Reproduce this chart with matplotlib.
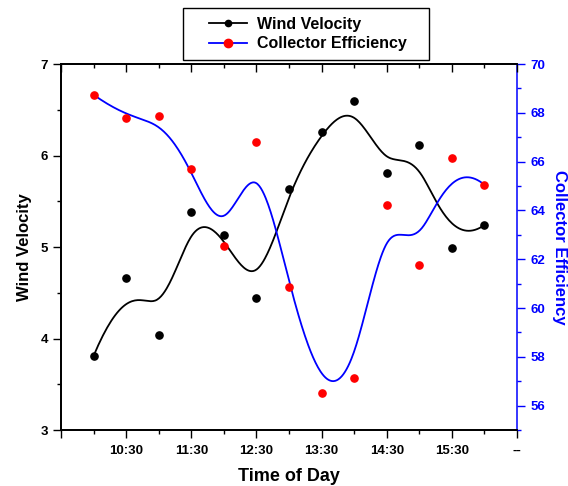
import matplotlib
matplotlib.use("Agg")
import matplotlib.pyplot as plt
from matplotlib.lines import Line2D
from matplotlib.patches import Rectangle
from matplotlib.ticker import MultipleLocator, FixedLocator
import numpy as np

plt.rcParams['font.family'] = ['Liberation Sans', 'DejaVu Sans']
plt.rcParams['font.weight'] = 'bold'

# Data
hours = [10.0, 10.5, 11.0, 11.5, 12.0, 12.5, 13.0, 13.5, 14.0, 14.5, 15.0, 15.5, 16.0]
wind_velocity = [3.81, 4.66, 4.04, 5.38, 5.13, 4.44, 5.63, 6.26, 6.60, 5.81, 6.11, 4.99, 5.24]
collector_eff = [68.74, 67.79, 67.85, 65.71, 62.54, 66.82, 60.86, 56.50, 57.15, 64.23, 61.78, 66.16, 65.05]
tick_hours = [9.5, 10.5, 11.5, 12.5, 13.5, 14.5, 15.5, 16.5]
tick_labels = ['', '10:30', '11:30', '12:30', '13:30', '14:30', '15:30', '--']


def bspline(px, py, samples=400):
    # clamped cubic B-spline using the data points as control points
    px = np.asarray(px, float)
    py = np.asarray(py, float)
    n = len(px)
    k = 3
    inner = np.arange(1, n - k)
    knots = np.concatenate([[0] * (k + 1), inner, [n - k] * (k + 1)]).astype(float)
    u = np.linspace(0, n - k, samples)
    u[-1] -= 1e-9
    # Cox-de Boor
    N = np.zeros((samples, len(knots) - 1))
    for i in range(len(knots) - 1):
        N[:, i] = (u >= knots[i]) & (u < knots[i + 1])
    for d in range(1, k + 1):
        Nn = np.zeros((samples, len(knots) - 1 - d))
        for i in range(len(knots) - 1 - d):
            a = knots[i + d] - knots[i]
            b = knots[i + d + 1] - knots[i + 1]
            t1 = (u - knots[i]) / a * N[:, i] if a > 0 else 0
            t2 = (knots[i + d + 1] - u) / b * N[:, i + 1] if b > 0 else 0
            Nn[:, i] = t1 + t2
        N = Nn
    return N @ px, N @ py


fig = plt.figure(figsize=(5.68, 4.86), dpi=100)
ax = fig.add_axes([0.1074, 0.1152, 0.8028, 0.7531])
ax2 = ax.twinx()
top = ax.twiny()

cx, cy = bspline(hours, wind_velocity)
ax.plot(cx, cy, color='black', lw=1.3, zorder=2)
ax.plot(hours, wind_velocity, 'o', color='black', ms=5.2, zorder=3)

bx, by = bspline(hours, collector_eff)
ax2.plot(bx, by, color='blue', lw=1.3, zorder=2)
ax2.plot(hours, collector_eff, 'o', color='red', ms=5.2, zorder=3)

ax.set_xlim(9.5, 16.5)
ax.set_ylim(3, 7)
ax2.set_ylim(55, 70)
top.set_xlim(9.5, 16.5)

ax.xaxis.set_major_locator(FixedLocator(tick_hours))
ax.set_xticklabels(tick_labels)
ax.xaxis.set_minor_locator(MultipleLocator(0.5))
ax.yaxis.set_major_locator(MultipleLocator(1))
ax.yaxis.set_minor_locator(MultipleLocator(0.5))
ax2.yaxis.set_major_locator(MultipleLocator(2))
ax2.yaxis.set_minor_locator(MultipleLocator(1))
top.xaxis.set_major_locator(FixedLocator(tick_hours))
top.xaxis.set_minor_locator(MultipleLocator(0.5))

ax.tick_params(axis='x', which='major', direction='out', length=6, width=1,
               top=False, labelsize=9.5, pad=5)
ax.tick_params(axis='x', which='minor', direction='out', length=3, width=1, top=False)
ax.tick_params(axis='y', which='major', direction='out', length=6, width=1, labelsize=9.5)
ax.tick_params(axis='y', which='minor', direction='out', length=3, width=1)
ax2.tick_params(axis='y', which='major', direction='out', length=6, width=1,
                colors='blue', labelsize=9.5)
ax2.tick_params(axis='y', which='minor', direction='out', length=3, width=1, colors='blue')
# top ticks point inward
top.tick_params(axis='x', which='major', direction='in', length=6, width=1, labeltop=False)
top.tick_params(axis='x', which='minor', direction='in', length=3, width=1)

for a in (ax, ax2, top):
    for s in a.spines.values():
        s.set_linewidth(1.1)
ax2.spines['right'].set_color('blue')
top.spines['right'].set_visible(False)
ax.spines['right'].set_visible(False)

ax.set_xlabel('Time of Day', fontsize=13, fontweight='bold', labelpad=8)
ax.set_ylabel('Wind Velocity', fontsize=12, fontweight='bold')
ax2.set_ylabel('Collector Efficiency', fontsize=12, fontweight='bold', color='blue',
               rotation=270, labelpad=16)
ax.yaxis.set_label_coords(-0.064, 0.5)

handles = [
    Line2D([], [], color='black', lw=1.3, marker='o', ms=4.5, mfc='black', mec='black'),
    Line2D([], [], color='blue', lw=1.3, marker='o', ms=6, mfc='red', mec='red'),
]
leg = fig.legend(handles, ['Wind Velocity', 'Collector Efficiency'],
                 loc='center', bbox_to_anchor=(0.5414, 0.930), fontsize=11.5,
                 frameon=False, handlelength=2.4, labelspacing=0.3,
                 borderpad=0, borderaxespad=0, handletextpad=0.6)
# legend box
fig.add_artist(Rectangle((183 / 568, 1 - 60 / 486), 246 / 568, 52 / 486,
                         transform=fig.transFigure, fill=False,
                         edgecolor='black', lw=1.0))

fig.savefig('out.png', dpi=100)
